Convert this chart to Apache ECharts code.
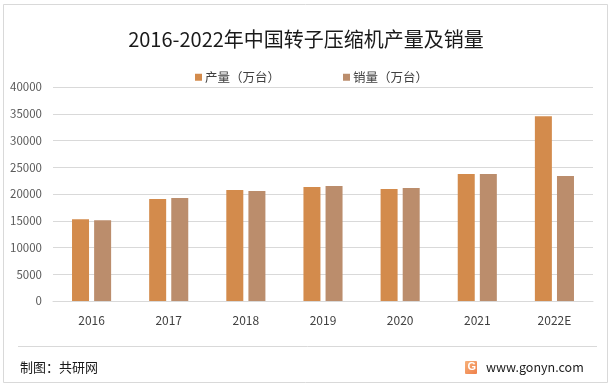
<!DOCTYPE html>
<html><head><meta charset="utf-8">
<script src="https://cdn.jsdelivr.net/npm/echarts@6/dist/echarts.min.js"></script>
<style>html,body{margin:0;padding:0;background:#fff;}#c{width:612px;height:387px;}</style>
</head><body><div id="c"></div>
<script>
const categories = ['2016','2017','2018','2019','2020','2021','2022E'];
const production = [15300, 19050, 20750, 21300, 20950, 23750, 34550];
const sales = [15100, 19250, 20550, 21500, 21100, 23750, 23350];
const seriesNames = ['产量（万台）', '销量（万台）'];
const titleText = '2016-2022年中国转子压缩机产量及销量';
const sourceText = '制图：共研网';
const siteText = 'www.gonyn.com';

const font = '"Noto Sans CJK SC", "Microsoft YaHei", sans-serif';
const chart = echarts.init(document.getElementById('c'), null, {renderer: 'canvas'});
chart.setOption({
  backgroundColor: '#fff',
  animation: false,
  title: {
    text: titleText, left: 'center', top: 24,
    textStyle: {fontFamily: font, fontSize: 20, fontWeight: 'normal', color: '#1a1a1a'}
  },
  legend: {
    left: 190, top: 66, itemWidth: 7, itemHeight: 7, itemGap: 63,
    icon: 'rect',
    textStyle: {fontFamily: font, fontSize: 12.5, color: '#404040', padding: [0,0,0,-2]},
    data: seriesNames
  },
  grid: {left: 53, right: 19, top: 87, bottom: 86},
  xAxis: {
    type: 'category', data: categories,
    axisLine: {lineStyle: {color: '#d9d9d9'}},
    axisTick: {show: false},
    axisLabel: {fontFamily: font, fontSize: 12, color: '#404040', margin: 13}
  },
  yAxis: {
    type: 'value', min: 0, max: 40000, interval: 5000,
    axisLine: {show: false}, axisTick: {show: false},
    splitLine: {lineStyle: {color: '#d9d9d9'}},
    axisLabel: {fontFamily: font, fontSize: 11.5, color: '#595959', margin: 11, formatter: v => String(v)}
  },
  series: [
    {name: seriesNames[0], type: 'bar', data: production, barWidth: 17, barGap: '30%',
     itemStyle: {color: '#D38B4C'}},
    {name: seriesNames[1], type: 'bar', data: sales, barWidth: 17,
     itemStyle: {color: '#BB8D6C'}}
  ],
  graphic: [
    {type: 'rect', shape: {x: 3.5, y: 4.5, width: 604, height: 378}, style: {fill: null, stroke: '#d9d9d9', lineWidth: 1}, silent: true},
    {type: 'line', shape: {x1: 18, y1: 346.5, x2: 597, y2: 346.5}, style: {stroke: '#d9d9d9', lineWidth: 1}},
    {type: 'text', left: 20, top: 361, style: {text: sourceText, font: '13px ' + font, fill: '#1a1a1a'}},
    {type: 'rect', shape: {x: 465, y: 361, width: 12, height: 13, r: 1},
     style: {fill: new echarts.graphic.LinearGradient(0,0,1,1,[{offset:0,color:'#f7b27a'},{offset:1,color:'#ef7f4a'}])}},
    {type: 'text', x: 467.5, y: 361.5, style: {text: 'G', font: 'bold 11px sans-serif', fill: '#fff'}},
    {type: 'text', left: 486, top: 361, style: {text: siteText, font: '12.5px ' + font, fill: '#1a1a1a'}}
  ]
});
</script></body></html>
